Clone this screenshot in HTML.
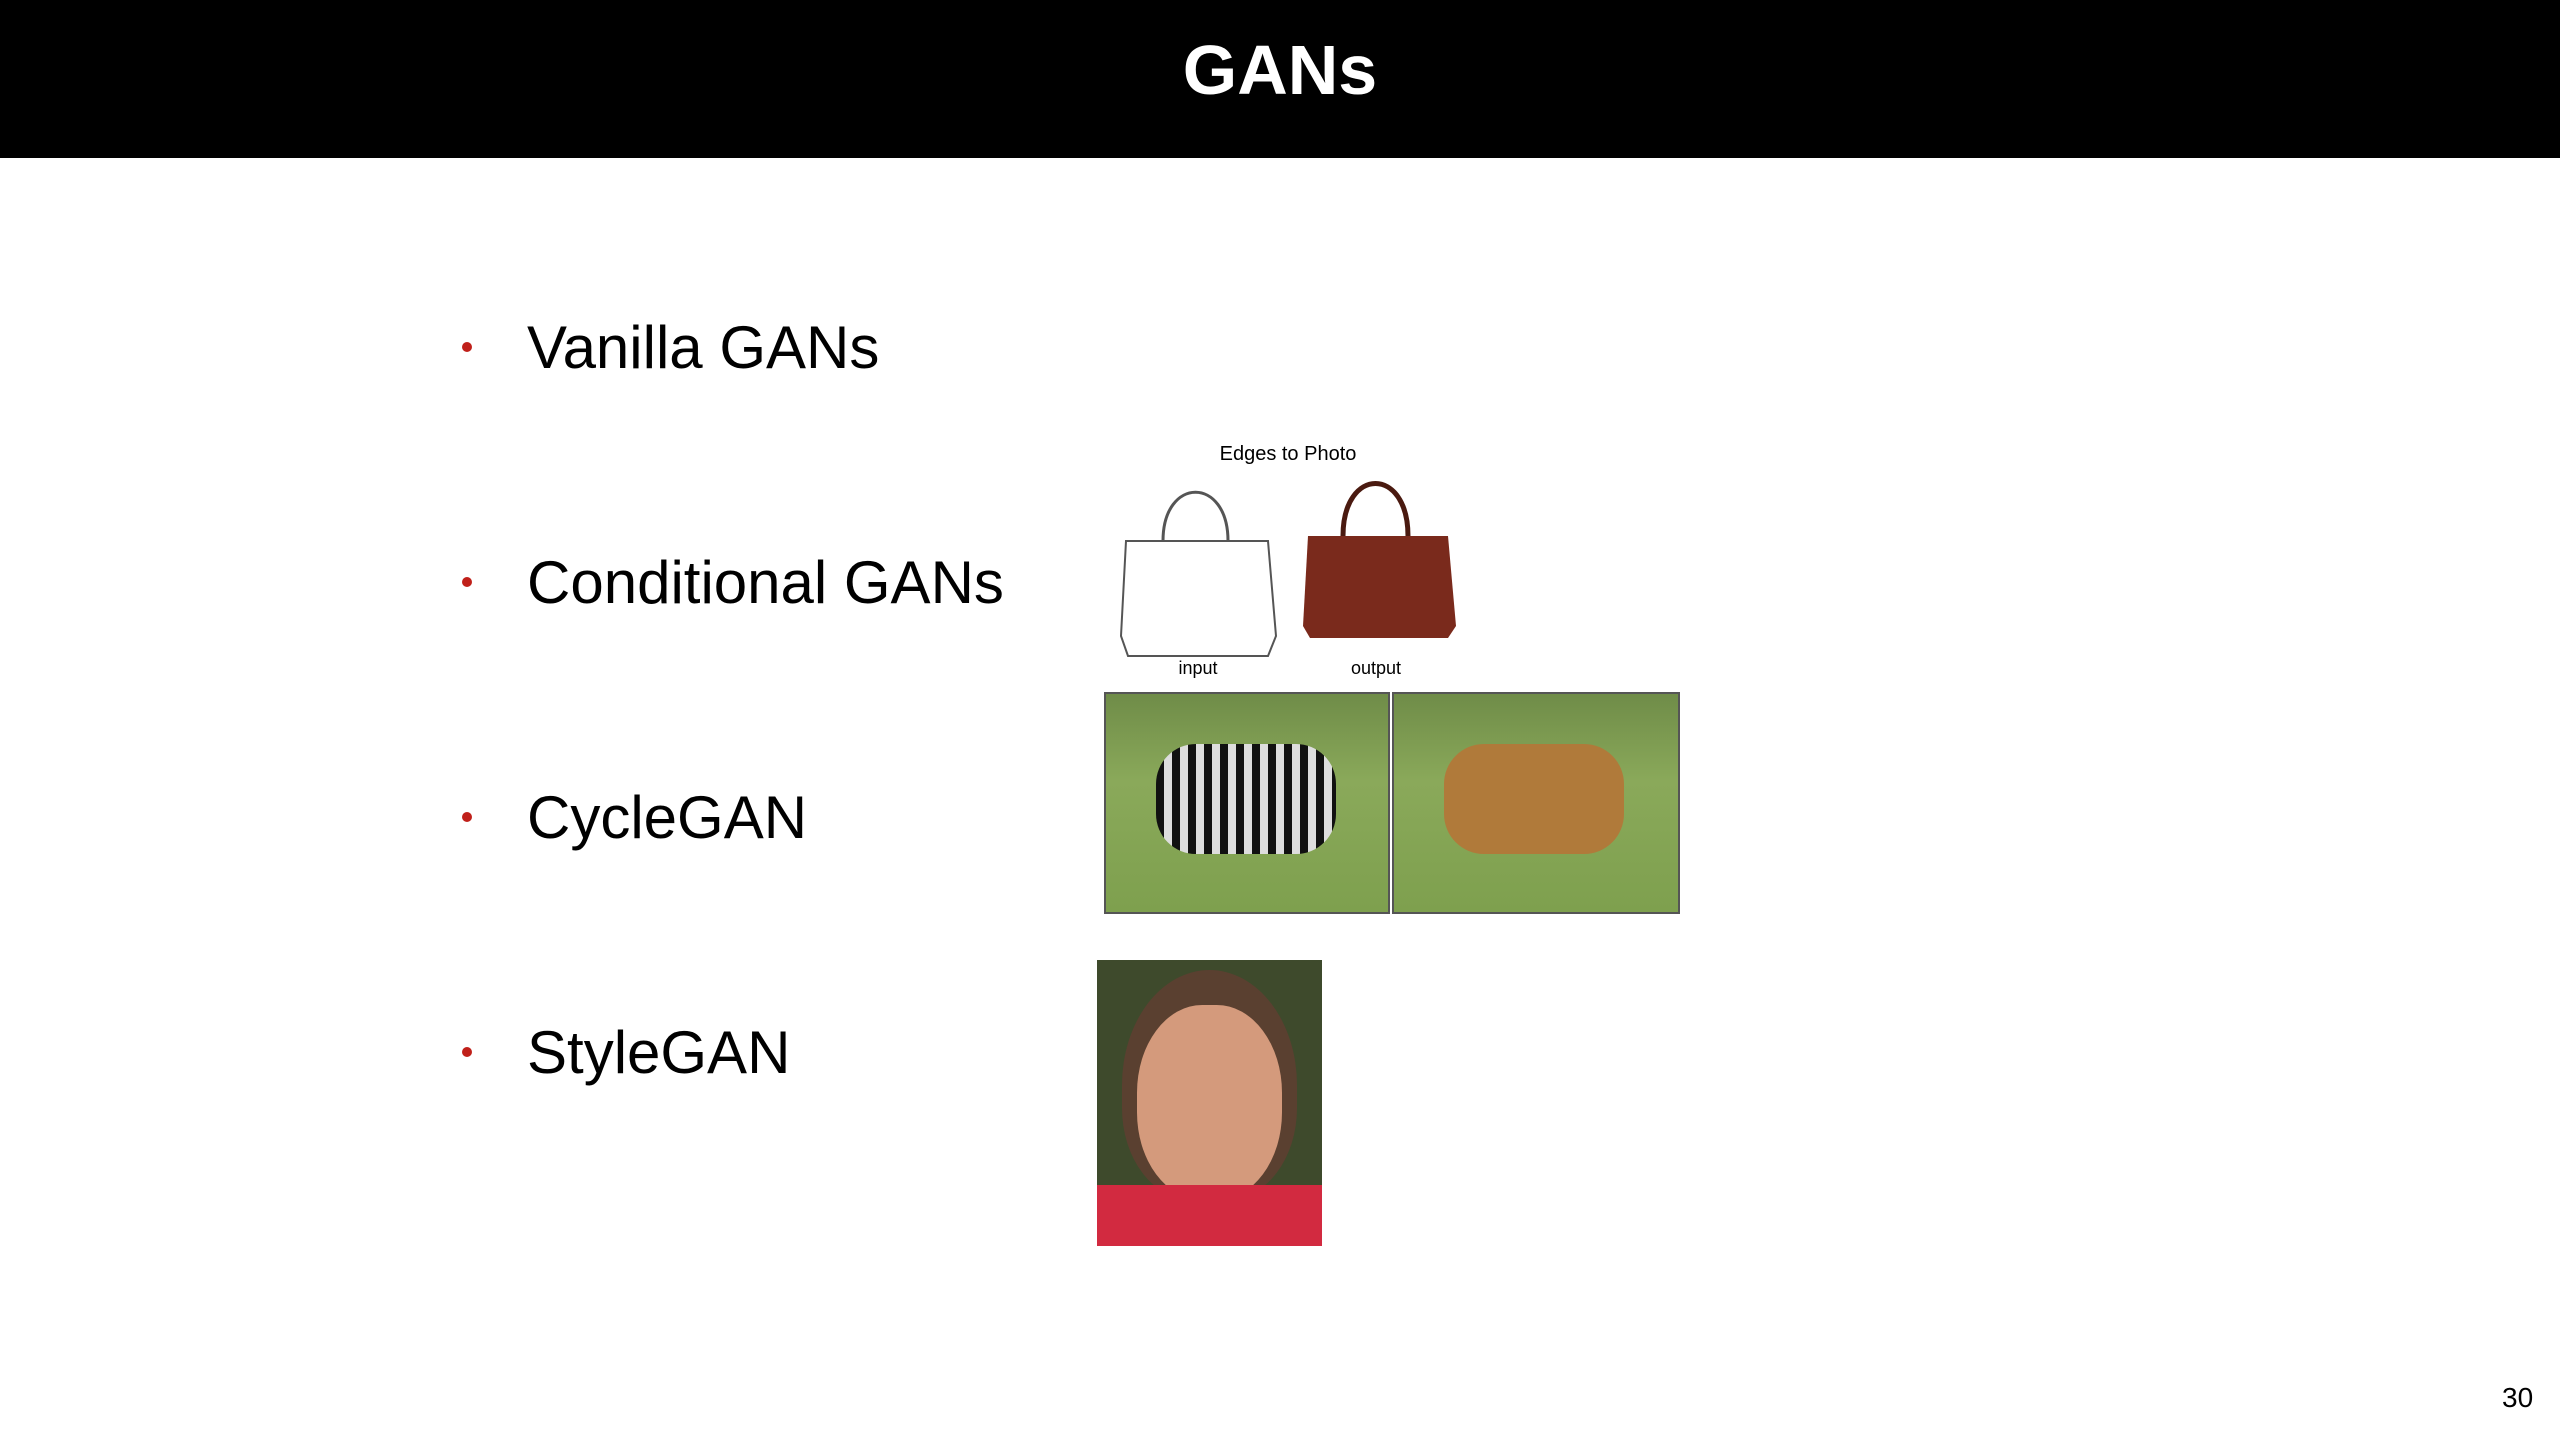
<!DOCTYPE html>
<html><head><meta charset="utf-8"><style>
body{margin:0;width:2560px;height:1440px;background:#fff;position:relative;overflow:hidden;font-family:"Liberation Sans",sans-serif}
.hdr{position:absolute;left:0;top:0;width:2560px;height:158px;background:#000}
.title{position:absolute;left:0;width:2560px;top:30px;text-align:center;color:#fff;font-size:70px;font-weight:bold;line-height:80px}
.b{position:absolute;left:462px;font-size:60px;color:#000;line-height:70px}
.b .dot{position:absolute;left:0;top:29px;width:10px;height:10px;border-radius:50%;background:#c0201a}
.b span{position:absolute;left:65px;white-space:nowrap}
.img{position:absolute}
</style></head><body>
<div class="hdr"></div>
<div class="title">GANs</div>
<div class="b" style="top:313px"><div class="dot"></div><span>Vanilla GANs</span></div>
<div class="b" style="top:548px"><div class="dot"></div><span>Conditional GANs</span></div>
<div class="b" style="top:783px"><div class="dot"></div><span>CycleGAN</span></div>
<div class="b" style="top:1018px"><div class="dot"></div><span>StyleGAN</span></div>

<svg class="img" style="left:1118px;top:436px" width="340" height="245">
<text x="170" y="24" font-size="20" text-anchor="middle" font-family="Liberation Sans">Edges to Photo</text>
<path d="M8 105 L150 105 L158 200 L150 220 L10 220 L3 200 Z" fill="#fff" stroke="#555" stroke-width="2"/>
<path d="M45 105 C45 40 110 40 110 105" fill="none" stroke="#555" stroke-width="3"/>
<path d="M190 100 L330 100 L338 190 L330 202 L192 202 L185 190 Z" fill="#7a2a1c"/>
<path d="M225 100 C225 30 290 30 290 100" fill="none" stroke="#4a1a10" stroke-width="5"/>
<text x="80" y="238" font-size="18" text-anchor="middle" font-family="Liberation Sans">input</text>
<text x="258" y="238" font-size="18" text-anchor="middle" font-family="Liberation Sans">output</text>
</svg>
<div class="img" style="left:1104px;top:692px;width:286px;height:222px;background:linear-gradient(#6f8c48,#8aa95a 40%,#7ea04e);border:2px solid #555;box-sizing:border-box">
<div style="position:absolute;left:50px;top:50px;width:180px;height:110px;background:repeating-linear-gradient(90deg,#111 0 8px,#ddd 8px 16px);border-radius:40px"></div></div>
<div class="img" style="left:1392px;top:692px;width:288px;height:222px;background:linear-gradient(#6f8c48,#8aa95a 40%,#7ea04e);border:2px solid #555;box-sizing:border-box">
<div style="position:absolute;left:50px;top:50px;width:180px;height:110px;background:#b07a3a;border-radius:40px"></div></div>
<div class="img" style="left:1097px;top:960px;width:225px;height:286px;background:#3e4a2c;overflow:hidden">
<div style="position:absolute;left:25px;top:10px;width:175px;height:230px;background:#5a4030;border-radius:50% 50% 40% 40%"></div>
<div style="position:absolute;left:40px;top:45px;width:145px;height:195px;background:#d49a7c;border-radius:45%"></div>
<div style="position:absolute;left:0;top:225px;width:225px;height:61px;background:#d22a40"></div>
</div>
<div style="position:absolute;left:2502px;top:1382px;font-size:28px;color:#000">30</div>
</body></html>
